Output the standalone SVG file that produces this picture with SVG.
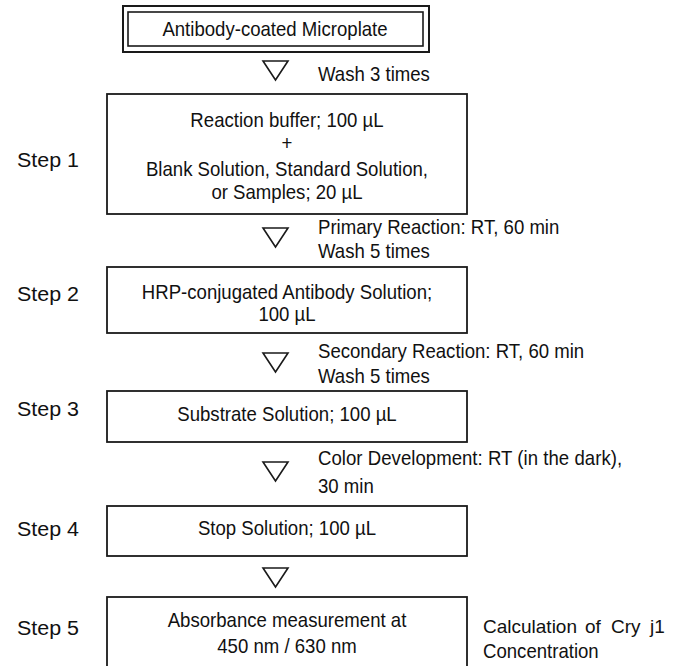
<svg xmlns="http://www.w3.org/2000/svg" xmlns:xlink="http://www.w3.org/1999/xlink" width="676" height="666" viewBox="0 0 676 666">
<style>
text{font-family:"Liberation Sans",Arial,sans-serif;font-size:20px;fill:#111}
.c{text-anchor:middle;transform-box:fill-box;transform-origin:center;transform:scaleX(0.93)}
.n{transform-box:fill-box;transform-origin:left center;transform:scaleX(0.93)}
.p{font-size:19px}
.box{fill:#fff;stroke:#1a1a1a;stroke-width:1.8}
.tri{fill:#fff;stroke:#1a1a1a;stroke-width:1.6}
</style>
<defs>
<path id="tri" class="tri" d="M-12.5,0 H12.5 L0,19 Z"/>
</defs>
<rect width="676" height="666" fill="#fff"/>

<g id="start">
<rect x="123" y="6" width="306" height="46" fill="#fff" stroke="#1a1a1a" stroke-width="2"/>
<rect x="128" y="12" width="295" height="34" fill="none" stroke="#1a1a1a" stroke-width="1.6"/>
<text class="c" x="275" y="36">Antibody-coated Microplate</text>
</g>

<g id="connectors">
<use xlink:href="#tri" x="275.5" y="61"/>
<use xlink:href="#tri" x="275.5" y="228"/>
<use xlink:href="#tri" x="275.5" y="353"/>
<use xlink:href="#tri" x="275.5" y="462"/>
<use xlink:href="#tri" x="275.5" y="568"/>
<text class="n" x="318" y="81">Wash 3 times</text>
<text class="n" x="318" y="234">Primary Reaction: RT, 60 min</text>
<text class="n" x="318" y="258">Wash 5 times</text>
<text class="n" x="318" y="358">Secondary Reaction: RT, 60 min</text>
<text class="n" x="318" y="383">Wash 5 times</text>
<text class="n" x="318" y="465" textLength="327" lengthAdjust="spacing">Color Development: RT (in the dark),</text>
<text class="n" x="318" y="493">30 min</text>
</g>

<g id="step1">
<rect class="box" x="107" y="94" width="360" height="120"/>
<text class="c" x="287" y="127">Reaction buffer; 100 µL</text>
<text class="c" x="287" y="150">+</text>
<text class="c" x="287" y="176">Blank Solution, Standard Solution,</text>
<text class="c" x="287" y="199">or Samples; 20 µL</text>
<text x="17" y="167" textLength="62" lengthAdjust="spacingAndGlyphs">Step 1</text>
</g>

<g id="step2">
<rect class="box" x="107" y="267" width="360" height="66"/>
<text class="c" x="287" y="299">HRP-conjugated Antibody Solution;</text>
<text class="c" x="287" y="321">100 µL</text>
<text x="17" y="301" textLength="62" lengthAdjust="spacingAndGlyphs">Step 2</text>
</g>

<g id="step3">
<rect class="box" x="107" y="391" width="360" height="51"/>
<text class="c" x="287" y="421">Substrate Solution; 100 µL</text>
<text x="17" y="416" textLength="62" lengthAdjust="spacingAndGlyphs">Step 3</text>
</g>

<g id="step4">
<rect class="box" x="107" y="506" width="360" height="50"/>
<text class="c" x="287" y="535">Stop Solution; 100 µL</text>
<text x="17" y="536" textLength="62" lengthAdjust="spacingAndGlyphs">Step 4</text>
</g>

<g id="step5">
<rect class="box" x="107" y="597" width="360" height="75"/>
<text class="c" x="287" y="627">Absorbance measurement at</text>
<text class="c" x="287" y="653">450 nm / 630 nm</text>
<text x="17" y="635" textLength="62" lengthAdjust="spacingAndGlyphs">Step 5</text>
</g>

<g id="calculation">
<text class="p" y="633"><tspan x="483">Calculation</tspan><tspan x="585">of</tspan><tspan x="611">Cry</tspan><tspan x="650">j1</tspan></text>
<text class="n" x="483" y="658">Concentration</text>
</g>
</svg>
